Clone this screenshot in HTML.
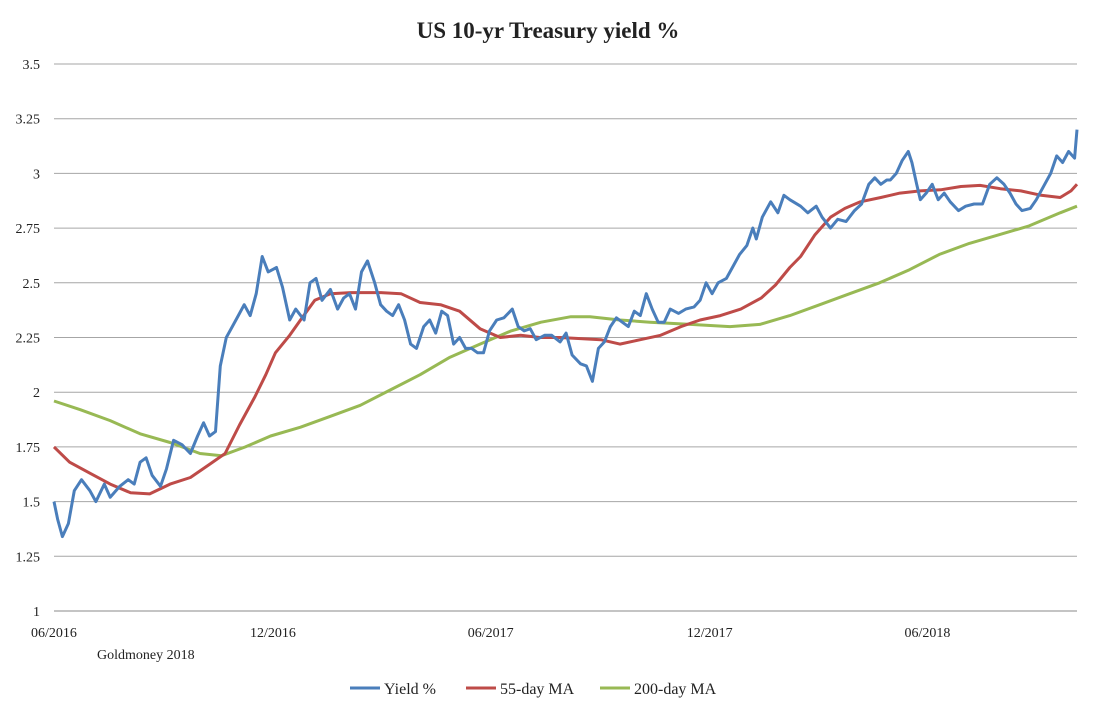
<!DOCTYPE html>
<html><head><meta charset="utf-8"><style>
body{margin:0;background:#fff;}
svg text{font-family:"Liberation Serif",serif;fill:#222;}
</style></head><body>
<svg width="1094" height="714" id="c">
<text x="548" y="38" text-anchor="middle" font-size="23" font-weight="bold">US 10-yr Treasury yield %</text>
<g id="grid"></g><g id="lines"></g>
<text x="97" y="659" font-size="14">Goldmoney 2018</text>
<g font-size="16">
<g><line x1="350" y1="688" x2="380" y2="688" stroke="#4a7ebb" stroke-width="3"/><text x="384" y="694">Yield %</text></g>
<g><line x1="466" y1="688" x2="496" y2="688" stroke="#be4b48" stroke-width="3"/><text x="500" y="694">55-day MA</text></g>
<g><line x1="600" y1="688" x2="630" y2="688" stroke="#98b954" stroke-width="3"/><text x="634" y="694">200-day MA</text></g>
</g>
</svg>
<script>
const yTicks=[1,1.25,1.5,1.75,2,2.25,2.5,2.75,3,3.25,3.5];
const yTickLabels=["1","1.25","1.5","1.75","2","2.25","2.5","2.75","3","3.25","3.5"];
const xTickDays=[0,183,365,548,730];
const xTickLabels=["06/2016","12/2016","06/2017","12/2017","06/2018"];
const yieldDays=[0,3,7,12,17,23,30,35,42,47,55,62,67,72,77,82,89,94,100,107,114,120,125,130,135,139,144,149,154,159,164,169,174,179,186,191,197,202,209,214,219,224,231,237,242,247,252,257,262,268,273,278,283,288,293,298,303,309,314,319,324,329,334,339,344,349,354,359,364,370,376,383,388,393,398,403,410,416,423,428,433,440,445,450,455,460,465,470,475,480,485,490,495,500,505,510,515,522,528,535,540,545,550,555,562,567,573,579,584,587,592,599,605,610,615,624,630,637,642,649,655,662,669,675,681,686,691,696,699,704,709,714,717,721,724,729,734,739,744,749,756,762,769,776,782,788,794,799,804,809,816,821,828,833,838,843,848,853,855];
const yieldVals=[1.5,1.42,1.34,1.40,1.55,1.60,1.55,1.50,1.58,1.52,1.57,1.60,1.58,1.68,1.70,1.62,1.57,1.65,1.78,1.76,1.72,1.80,1.86,1.80,1.82,2.12,2.25,2.30,2.35,2.40,2.35,2.45,2.62,2.55,2.57,2.48,2.33,2.38,2.33,2.50,2.52,2.42,2.47,2.38,2.43,2.45,2.38,2.55,2.60,2.50,2.40,2.37,2.35,2.40,2.33,2.22,2.20,2.30,2.33,2.27,2.37,2.35,2.22,2.25,2.20,2.20,2.18,2.18,2.28,2.33,2.34,2.38,2.30,2.28,2.29,2.24,2.26,2.26,2.23,2.27,2.17,2.13,2.12,2.05,2.20,2.23,2.30,2.34,2.32,2.30,2.37,2.35,2.45,2.38,2.32,2.32,2.38,2.36,2.38,2.39,2.42,2.50,2.45,2.50,2.52,2.57,2.63,2.67,2.75,2.70,2.80,2.87,2.82,2.90,2.88,2.85,2.82,2.85,2.80,2.75,2.79,2.78,2.83,2.86,2.95,2.98,2.95,2.97,2.97,3.0,3.06,3.10,3.05,2.95,2.88,2.91,2.95,2.88,2.91,2.87,2.83,2.85,2.86,2.86,2.95,2.98,2.95,2.91,2.86,2.83,2.84,2.88,2.95,3.0,3.08,3.05,3.10,3.07,3.20];
const ma55Days=[0,13,30,47,64,80,97,114,130,143,155,168,177,185,197,206,218,231,248,273,290,306,323,339,356,373,390,406,423,440,457,473,490,507,524,540,557,574,591,603,615,624,636,649,661,674,691,707,724,741,758,774,791,808,825,841,850,855];
const ma55Vals=[1.75,1.68,1.63,1.58,1.54,1.535,1.58,1.61,1.67,1.72,1.85,1.98,2.08,2.18,2.26,2.33,2.42,2.45,2.455,2.455,2.45,2.41,2.40,2.37,2.29,2.25,2.26,2.25,2.25,2.245,2.24,2.22,2.24,2.26,2.30,2.33,2.35,2.38,2.43,2.49,2.57,2.62,2.72,2.80,2.84,2.87,2.89,2.91,2.92,2.925,2.94,2.945,2.93,2.92,2.90,2.89,2.92,2.95];
const ma200Days=[0,22,47,72,97,122,140,160,181,206,231,256,281,306,331,356,382,407,432,448,473,498,532,565,590,615,640,665,690,715,740,765,790,815,841,855];
const ma200Vals=[1.96,1.92,1.87,1.81,1.77,1.72,1.71,1.75,1.80,1.84,1.89,1.94,2.01,2.08,2.16,2.22,2.28,2.32,2.345,2.345,2.33,2.32,2.31,2.30,2.31,2.35,2.40,2.45,2.50,2.56,2.63,2.68,2.72,2.76,2.82,2.85];

const X0=54,X1=1077,Y0=611,Y1=64;
const xs=d=>X0+d*(X1-X0)/855;
const ys=v=>Y0-(v-1)*(Y0-Y1)/2.5;
const NS="http://www.w3.org/2000/svg";
const grid=document.getElementById('grid'),lines=document.getElementById('lines');
yTicks.forEach((t,i)=>{
 const l=document.createElementNS(NS,'line');
 l.setAttribute('x1',X0);l.setAttribute('x2',X1);l.setAttribute('y1',ys(t));l.setAttribute('y2',ys(t));
 l.setAttribute('stroke',i===0?'#888':'#a6a6a6');l.setAttribute('stroke-width','1');
 
 
 grid.appendChild(l);
 const tx=document.createElementNS(NS,'text');
 tx.setAttribute('x',40);tx.setAttribute('y',ys(t)+5);tx.setAttribute('text-anchor','end');tx.setAttribute('font-size','14');
 tx.textContent=yTickLabels[i];
 
 
 grid.appendChild(tx);
});
xTickDays.forEach((d,i)=>{
 const tx=document.createElementNS(NS,'text');
 tx.setAttribute('x',xs(d));tx.setAttribute('y',637);tx.setAttribute('text-anchor','middle');tx.setAttribute('font-size','14');
 tx.textContent=xTickLabels[i];
 
 
 grid.appendChild(tx);
});
function draw(days,vals,color,name){
 const p=document.createElementNS(NS,'polyline');
 p.setAttribute('points',days.map((d,i)=>xs(d).toFixed(1)+','+ys(vals[i]).toFixed(1)).join(' '));
 p.setAttribute('fill','none');p.setAttribute('stroke',color);p.setAttribute('stroke-width','3');p.setAttribute('stroke-linejoin','round');
 
 
 lines.appendChild(p);
}
draw(ma200Days,ma200Vals,'#98b954','ma200-line');
draw(ma55Days,ma55Vals,'#be4b48','ma55-line');
draw(yieldDays,yieldVals,'#4a7ebb','yield-line');
</script>
</body></html>
